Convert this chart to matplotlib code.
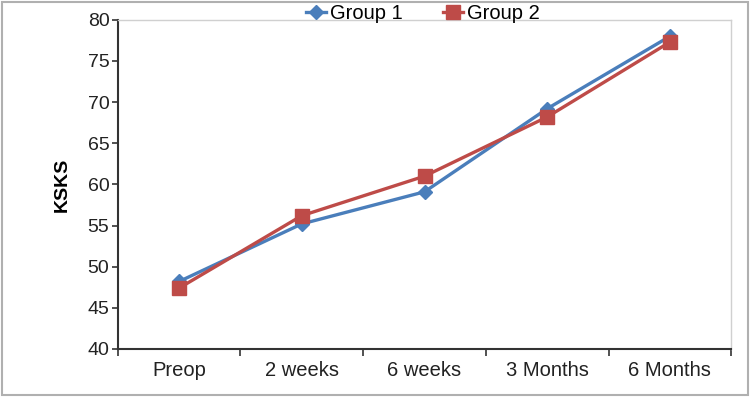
import matplotlib
matplotlib.use("Agg")
import matplotlib.pyplot as plt
from matplotlib.patches import Rectangle

plt.rcParams['font.family'] = ['Liberation Sans', 'DejaVu Sans']

categories = ["Preop", "2 weeks", "6 weeks", "3 Months", "6 Months"]
group1 = [48.2, 55.2, 59.1, 69.2, 78.0]
group2 = [47.4, 56.2, 61.0, 68.2, 77.3]
yticks = [40, 45, 50, 55, 60, 65, 70, 75, 80]

fig = plt.figure(figsize=(7.5, 3.97), dpi=100)
ax = fig.add_axes([0.157, 0.121, 0.818, 0.829])

x = list(range(len(categories)))
ax.plot(x, group1, color='#4a7ebb', lw=2.4, marker='D', ms=7.5, label='Group 1', zorder=3)
ax.plot(x, group2, color='#be4b48', lw=2.4, marker='s', ms=9.5, label='Group 2', zorder=4)

ax.set_xlim(-0.5, len(categories) - 0.5)
ax.set_ylim(40, 80)
ax.set_yticks(yticks)
ax.set_xticks(x)
ax.set_xticklabels(categories, fontsize=14.5, color='#222222')
ax.tick_params(axis='x', length=0, pad=9)
ax.set_xticks([i - 0.5 for i in range(len(categories) + 1)], minor=True)
ax.tick_params(axis='x', which='minor', length=5, width=1.2, direction='out', color='#333333')
ax.tick_params(axis='y', length=4, width=1.2, direction='out', color='#333333', labelsize=14, labelcolor='#222222', pad=2)
ax.set_ylabel('KSKS', fontsize=14, fontweight='bold', labelpad=12)

for s in ['left', 'bottom']:
    ax.spines[s].set_color('#333333')
    ax.spines[s].set_linewidth(1.5)
for s in ['top', 'right']:
    ax.spines[s].set_color('#d0d0d0')
    ax.spines[s].set_linewidth(1.0)

leg = ax.legend(loc='center', bbox_to_anchor=(0.497, 1.02), ncol=2, frameon=False,
                fontsize=14.5, handlelength=1.0, columnspacing=2.0, handletextpad=0.2,
                borderaxespad=0)

fig.patches.append(Rectangle((0.003, 0.004), 0.994, 0.99, transform=fig.transFigure,
                             fill=False, edgecolor='#b0b0b0', lw=1.5))

fig.savefig('out.png', dpi=100)
